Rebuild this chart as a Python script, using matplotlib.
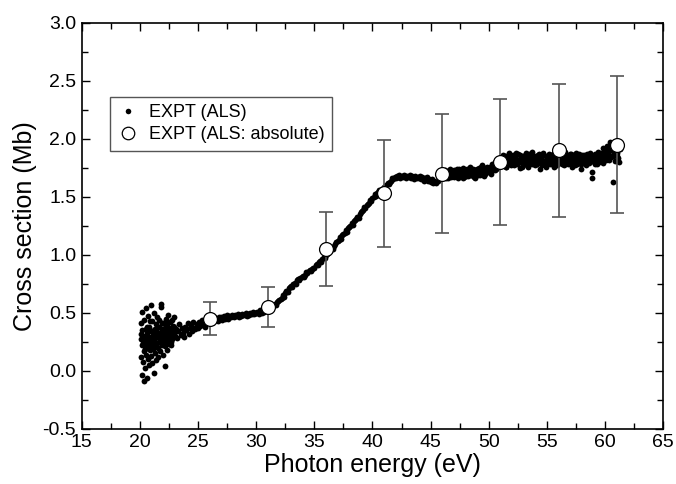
import numpy as np
import matplotlib
matplotlib.use("Agg")
import matplotlib.pyplot as plt
from matplotlib.ticker import MultipleLocator

plt.rcParams["font.family"] = ["Liberation Sans", "DejaVu Sans"]
plt.rcParams["axes.unicode_minus"] = False

# low energy part of the ALS scan (noisy, near threshold)
low_energy = [20.05, 20.08, 20.12, 20.15, 20.18, 20.22, 20.25, 20.28, 20.32, 20.35,
              20.38, 20.42, 20.45, 20.48, 20.52, 20.55, 20.58, 20.62, 20.65, 20.68,
              20.72, 20.75, 20.78, 20.82, 20.85, 20.88, 20.92, 20.95, 20.98, 21.02,
              21.05, 21.08, 21.12, 21.15, 21.18, 21.22, 21.25, 21.28, 21.32, 21.35,
              21.38, 21.42, 21.45, 21.48, 21.52, 21.55, 21.58, 21.62, 21.65, 21.68,
              21.72, 21.75, 21.78, 21.82, 21.85, 21.88, 21.92, 21.95, 21.98, 22.02,
              22.05, 22.08, 22.12, 22.15, 22.18, 22.22, 22.25, 22.28, 22.32, 22.35,
              22.38, 22.42, 22.45, 22.48, 22.52, 22.55, 22.58, 22.62, 22.65, 22.68,
              22.72, 22.75, 22.78, 22.82, 22.85, 22.88, 22.92, 22.95,
              20.10, 20.20, 20.30, 20.40, 20.50, 20.60, 20.70, 20.80, 20.90, 21.00,
              21.10, 21.20, 21.30, 21.40, 21.50, 21.60, 21.70, 21.80, 21.90, 22.00,
              22.10, 22.20, 22.30, 22.40, 22.50, 22.60, 22.70, 22.80, 22.90]
low_cs = [0.32, 0.12, 0.41, -0.04, 0.22, 0.51, 0.08, 0.30, 0.17, -0.09,
          0.44, 0.26, 0.02, 0.36, 0.14, 0.54, 0.21, -0.06, 0.33, 0.10,
          0.47, 0.25, 0.05, 0.38, 0.18, 0.29, 0.57, 0.13, 0.34, 0.22,
          0.43, 0.07, 0.31, 0.19, 0.50, 0.27, -0.02, 0.36, 0.15, 0.40,
          0.24, 0.09, 0.33, 0.46, 0.20, 0.29, 0.12, 0.38, 0.25, 0.44,
          0.17, 0.32, 0.27, 0.55, 0.58, 0.22, 0.36, 0.30, 0.14, 0.41,
          0.26, 0.33, 0.04, 0.37, 0.21, 0.45, 0.29, 0.34, 0.18, 0.39,
          0.27, 0.31, 0.48, 0.23, 0.35, 0.28, 0.42, 0.32, 0.25, 0.37,
          0.30, 0.44, 0.27, 0.34, 0.39, 0.29, 0.46, 0.33,
          0.27, 0.35, 0.24, 0.19, 0.29, 0.38, 0.20, 0.26, 0.43, 0.28,
          0.24, 0.35, 0.30, 0.21, 0.37, 0.28, 0.33, 0.24, 0.41, 0.31,
          0.27, 0.35, 0.40, 0.24, 0.30, 0.36, 0.22, 0.31, 0.38]

# main ALS scan, 23.0 - 61.2 eV in 0.1 eV steps (rows of 1 eV)
scan_energy = [
    23.0, 23.1, 23.2, 23.3, 23.4, 23.5, 23.6, 23.7, 23.8, 23.9,
    24.0, 24.1, 24.2, 24.3, 24.4, 24.5, 24.6, 24.7, 24.8, 24.9,
    25.0, 25.1, 25.2, 25.3, 25.4, 25.5, 25.6, 25.7, 25.8, 25.9,
    26.0, 26.1, 26.2, 26.3, 26.4, 26.5, 26.6, 26.7, 26.8, 26.9,
    27.0, 27.1, 27.2, 27.3, 27.4, 27.5, 27.6, 27.7, 27.8, 27.9,
    28.0, 28.1, 28.2, 28.3, 28.4, 28.5, 28.6, 28.7, 28.8, 28.9,
    29.0, 29.1, 29.2, 29.3, 29.4, 29.5, 29.6, 29.7, 29.8, 29.9,
    30.0, 30.1, 30.2, 30.3, 30.4, 30.5, 30.6, 30.7, 30.8, 30.9,
    31.0, 31.1, 31.2, 31.3, 31.4, 31.5, 31.6, 31.7, 31.8, 31.9,
    32.0, 32.1, 32.2, 32.3, 32.4, 32.5, 32.6, 32.7, 32.8, 32.9,
    33.0, 33.1, 33.2, 33.3, 33.4, 33.5, 33.6, 33.7, 33.8, 33.9,
    34.0, 34.1, 34.2, 34.3, 34.4, 34.5, 34.6, 34.7, 34.8, 34.9,
    35.0, 35.1, 35.2, 35.3, 35.4, 35.5, 35.6, 35.7, 35.8, 35.9,
    36.0, 36.1, 36.2, 36.3, 36.4, 36.5, 36.6, 36.7, 36.8, 36.9,
    37.0, 37.1, 37.2, 37.3, 37.4, 37.5, 37.6, 37.7, 37.8, 37.9,
    38.0, 38.1, 38.2, 38.3, 38.4, 38.5, 38.6, 38.7, 38.8, 38.9,
    39.0, 39.1, 39.2, 39.3, 39.4, 39.5, 39.6, 39.7, 39.8, 39.9,
    40.0, 40.1, 40.2, 40.3, 40.4, 40.5, 40.6, 40.7, 40.8, 40.9,
    41.0, 41.1, 41.2, 41.3, 41.4, 41.5, 41.6, 41.7, 41.8, 41.9,
    42.0, 42.1, 42.2, 42.3, 42.4, 42.5, 42.6, 42.7, 42.8, 42.9,
    43.0, 43.1, 43.2, 43.3, 43.4, 43.5, 43.6, 43.7, 43.8, 43.9,
    44.0, 44.1, 44.2, 44.3, 44.4, 44.5, 44.6, 44.7, 44.8, 44.9,
    45.0, 45.1, 45.2, 45.3, 45.4, 45.5, 45.6, 45.7, 45.8, 45.9,
    46.0, 46.1, 46.2, 46.3, 46.4, 46.5, 46.6, 46.7, 46.8, 46.9,
    47.0, 47.1, 47.2, 47.3, 47.4, 47.5, 47.6, 47.7, 47.8, 47.9,
    48.0, 48.1, 48.2, 48.3, 48.4, 48.5, 48.6, 48.7, 48.8, 48.9,
    49.0, 49.1, 49.2, 49.3, 49.4, 49.5, 49.6, 49.7, 49.8, 49.9,
    50.0, 50.1, 50.2, 50.3, 50.4, 50.5, 50.6, 50.7, 50.8, 50.9,
    51.0, 51.1, 51.2, 51.3, 51.4, 51.5, 51.6, 51.7, 51.8, 51.9,
    52.0, 52.1, 52.2, 52.3, 52.4, 52.5, 52.6, 52.7, 52.8, 52.9,
    53.0, 53.1, 53.2, 53.3, 53.4, 53.5, 53.6, 53.7, 53.8, 53.9,
    54.0, 54.1, 54.2, 54.3, 54.4, 54.5, 54.6, 54.7, 54.8, 54.9,
    55.0, 55.1, 55.2, 55.3, 55.4, 55.5, 55.6, 55.7, 55.8, 55.9,
    56.0, 56.1, 56.2, 56.3, 56.4, 56.5, 56.6, 56.7, 56.8, 56.9,
    57.0, 57.1, 57.2, 57.3, 57.4, 57.5, 57.6, 57.7, 57.8, 57.9,
    58.0, 58.1, 58.2, 58.3, 58.4, 58.5, 58.6, 58.7, 58.8, 58.9,
    59.0, 59.1, 59.2, 59.3, 59.4, 59.5, 59.6, 59.7, 59.8, 59.9,
    60.0, 60.1, 60.2, 60.3, 60.4, 60.5, 60.6, 60.7, 60.8, 60.9,
    61.0, 61.1, 61.2]
scan_cs = [
    0.30, 0.36, 0.28, 0.34, 0.40, 0.31, 0.37, 0.33, 0.29, 0.38,
    0.35, 0.41, 0.32, 0.37, 0.39, 0.34, 0.42, 0.36, 0.38, 0.40,
    0.37, 0.42, 0.39, 0.44, 0.40, 0.43, 0.38, 0.45, 0.41, 0.43,
    0.44, 0.42, 0.45, 0.43, 0.46, 0.44, 0.45, 0.43, 0.46, 0.45,
    0.46, 0.44, 0.47, 0.45, 0.46, 0.48, 0.45, 0.47, 0.46, 0.48,
    0.47, 0.46, 0.48, 0.47, 0.49, 0.46, 0.48, 0.47, 0.49, 0.48,
    0.48, 0.50, 0.47, 0.49, 0.48, 0.50, 0.49, 0.51, 0.49, 0.50,
    0.50, 0.51, 0.49, 0.52, 0.51, 0.50, 0.52, 0.51, 0.53, 0.52,
    0.53, 0.55, 0.54, 0.56, 0.55, 0.57, 0.58, 0.57, 0.59, 0.60,
    0.61, 0.62, 0.63, 0.65, 0.64, 0.67, 0.69, 0.68, 0.71, 0.72,
    0.73, 0.72, 0.75, 0.76, 0.75, 0.78, 0.79, 0.78, 0.80, 0.81,
    0.82, 0.81, 0.83, 0.85, 0.84, 0.86, 0.87, 0.86, 0.88, 0.89,
    0.89, 0.91, 0.92, 0.91, 0.94, 0.95, 0.94, 0.96, 0.98, 0.97,
    1.00, 1.01, 1.03, 1.02, 1.05, 1.06, 1.05, 1.08, 1.09, 1.11,
    1.12, 1.13, 1.15, 1.14, 1.17, 1.18, 1.19, 1.21, 1.20, 1.23,
    1.24, 1.25, 1.27, 1.26, 1.29, 1.30, 1.31, 1.33, 1.32, 1.35,
    1.37, 1.38, 1.39, 1.41, 1.40, 1.43, 1.44, 1.45, 1.47, 1.46,
    1.49, 1.50, 1.52, 1.51, 1.53, 1.54, 1.56, 1.55, 1.57, 1.56,
    1.58, 1.57, 1.60, 1.62, 1.61, 1.63, 1.64, 1.66, 1.65, 1.67,
    1.66, 1.68, 1.67, 1.69, 1.66, 1.68, 1.67, 1.69, 1.68, 1.66,
    1.68, 1.67, 1.69, 1.66, 1.68, 1.67, 1.65, 1.68, 1.66, 1.67,
    1.66, 1.68, 1.65, 1.67, 1.64, 1.66, 1.65, 1.67, 1.64, 1.65,
    1.63, 1.65, 1.62, 1.64, 1.63, 1.62, 1.64, 1.66, 1.65, 1.68,
    1.69, 1.67, 1.72, 1.68, 1.71, 1.66, 1.70, 1.73, 1.68, 1.71,
    1.67, 1.72, 1.69, 1.74, 1.70, 1.68, 1.73, 1.71, 1.66, 1.72,
    1.70, 1.74, 1.68, 1.71, 1.75, 1.69, 1.72, 1.67, 1.73, 1.70,
    1.74, 1.69, 1.72, 1.76, 1.70, 1.73, 1.68, 1.75, 1.71, 1.74,
    1.72, 1.76, 1.70, 1.74, 1.77, 1.73, 1.78, 1.75, 1.79, 1.76,
    1.80, 1.77, 1.83, 1.79, 1.85, 1.76, 1.82, 1.88, 1.78, 1.84,
    1.81, 1.86, 1.77, 1.83, 1.79, 1.87, 1.82, 1.75, 1.85, 1.80,
    1.84, 1.78, 1.88, 1.82, 1.76, 1.86, 1.81, 1.89, 1.79, 1.83,
    1.77, 1.85, 1.80, 1.87, 1.74, 1.83, 1.79, 1.86, 1.81, 1.76,
    1.84, 1.79, 1.87, 1.82, 1.78, 1.85, 1.80, 1.88, 1.83, 1.77,
    1.86, 1.81, 1.84, 1.78, 1.87, 1.82, 1.89, 1.79, 1.85, 1.83,
    1.80, 1.87, 1.76, 1.84, 1.81, 1.88, 1.78, 1.85, 1.82, 1.74,
    1.83, 1.79, 1.86, 1.81, 1.77, 1.85, 1.80, 1.88, 1.82, 1.66,
    1.84, 1.78, 1.86, 1.82, 1.89, 1.80, 1.87, 1.83, 1.79, 1.85,
    1.90, 1.82, 1.94, 1.86, 1.97, 1.84, 1.91, 1.63, 1.88, 1.95,
    1.85, 1.92, 1.80]

# second pass over the upper range
scan2_energy = [
    46.05, 46.15, 46.25, 46.35, 46.45, 46.55, 46.65, 46.75, 46.85, 46.95,
    47.05, 47.15, 47.25, 47.35, 47.45, 47.55, 47.65, 47.75, 47.85, 47.95,
    48.05, 48.15, 48.25, 48.35, 48.45, 48.55, 48.65, 48.75, 48.85, 48.95,
    49.05, 49.15, 49.25, 49.35, 49.45, 49.55, 49.65, 49.75, 49.85, 49.95,
    50.05, 50.15, 50.25, 50.35, 50.45, 50.55, 50.65, 50.75, 50.85, 50.95,
    51.05, 51.15, 51.25, 51.35, 51.45, 51.55, 51.65, 51.75, 51.85, 51.95,
    52.05, 52.15, 52.25, 52.35, 52.45, 52.55, 52.65, 52.75, 52.85, 52.95,
    53.05, 53.15, 53.25, 53.35, 53.45, 53.55, 53.65, 53.75, 53.85, 53.95,
    54.05, 54.15, 54.25, 54.35, 54.45, 54.55, 54.65, 54.75, 54.85, 54.95,
    55.05, 55.15, 55.25, 55.35, 55.45, 55.55, 55.65, 55.75, 55.85, 55.95,
    56.05, 56.15, 56.25, 56.35, 56.45, 56.55, 56.65, 56.75, 56.85, 56.95,
    57.05, 57.15, 57.25, 57.35, 57.45, 57.55, 57.65, 57.75, 57.85, 57.95,
    58.05, 58.15, 58.25, 58.35, 58.45, 58.55, 58.65, 58.75, 58.85, 58.95,
    59.05, 59.15, 59.25, 59.35, 59.45, 59.55, 59.65, 59.75, 59.85, 59.95,
    60.05, 60.15, 60.25, 60.35, 60.45, 60.55, 60.65, 60.75, 60.85, 60.95,
    61.05, 61.15, 61.25]
scan2_cs = [
    1.70, 1.68, 1.73, 1.66, 1.71, 1.69, 1.74, 1.67, 1.72, 1.70,
    1.73, 1.68, 1.71, 1.66, 1.74, 1.70, 1.69, 1.75, 1.67, 1.72,
    1.68, 1.73, 1.71, 1.76, 1.69, 1.72, 1.74, 1.70, 1.66, 1.73,
    1.71, 1.75, 1.69, 1.73, 1.77, 1.72, 1.70, 1.74, 1.76, 1.71,
    1.75, 1.71, 1.78, 1.73, 1.76, 1.80, 1.74, 1.77, 1.81, 1.78,
    1.82, 1.78, 1.86, 1.80, 1.76, 1.84, 1.79, 1.87, 1.81, 1.77,
    1.85, 1.79, 1.83, 1.88, 1.78, 1.82, 1.86, 1.80, 1.76, 1.84,
    1.80, 1.86, 1.77, 1.83, 1.87, 1.79, 1.84, 1.78, 1.85, 1.81,
    1.82, 1.78, 1.86, 1.80, 1.84, 1.77, 1.88, 1.81, 1.79, 1.85,
    1.80, 1.86, 1.78, 1.84, 1.81, 1.87, 1.76, 1.83, 1.79, 1.86,
    1.82, 1.88, 1.80, 1.85, 1.77, 1.83, 1.86, 1.81, 1.78, 1.87,
    1.84, 1.79, 1.86, 1.82, 1.77, 1.85, 1.80, 1.87, 1.83, 1.78,
    1.86, 1.81, 1.84, 1.78, 1.87, 1.82, 1.79, 1.85, 1.71, 1.83,
    1.80, 1.87, 1.83, 1.78, 1.85, 1.81, 1.88, 1.84, 1.92, 1.86,
    1.84, 1.93, 1.87, 1.82, 1.90, 1.96, 1.85, 1.92, 1.81, 1.89,
    1.88, 1.83, 1.91]

# absolute measurements with error bars
abs_energy = [26, 31, 36, 41, 46, 51, 56, 61]
abs_cs = [0.45, 0.55, 1.05, 1.53, 1.70, 1.80, 1.90, 1.95]
abs_err = [0.14, 0.17, 0.32, 0.46, 0.51, 0.54, 0.57, 0.59]

fig = plt.figure(figsize=(6.76, 4.84), dpi=100)
ax = fig.add_axes([0.121, 0.114, 0.860, 0.839])

all_e = low_energy + scan_energy + scan2_energy
all_cs = low_cs + scan_cs + scan2_cs
ax.plot(all_e, all_cs, "o", color="black", ms=4.2, mew=0,
        label="EXPT (ALS)", zorder=2)
ax.errorbar(abs_energy, abs_cs, yerr=abs_err, fmt="none", ecolor="#555555",
            elinewidth=1.2, capsize=5, capthick=1.2, zorder=3)
ax.plot(abs_energy, abs_cs, "o", mfc="white", mec="black", mew=0.9, ms=10,
        label="EXPT (ALS: absolute)", zorder=4)

ax.set_xlim(15, 65)
ax.set_ylim(-0.5, 3.0)
ax.xaxis.set_major_locator(MultipleLocator(5))
ax.xaxis.set_minor_locator(MultipleLocator(2.5))
ax.yaxis.set_major_locator(MultipleLocator(0.5))
ax.yaxis.set_minor_locator(MultipleLocator(0.25))
ax.tick_params(which="both", direction="in", top=True, right=True,
               labelsize=14, width=1)
ax.tick_params(which="major", length=6, pad=4)
ax.tick_params(which="minor", length=4)
for s in ax.spines.values():
    s.set_linewidth(1.2)

ax.set_xlabel("Photon energy (eV)", fontsize=18, labelpad=1)
ax.set_ylabel("Cross section (Mb)", fontsize=18, labelpad=4)

leg = ax.legend(loc="upper left", bbox_to_anchor=(0.048, 0.818),
                borderaxespad=0, fontsize=13, fancybox=False,
                edgecolor="#555555", framealpha=1, handletextpad=0.6,
                markerscale=1.0, handlelength=1.2, borderpad=0.4,
                labelspacing=0.3)
leg.get_frame().set_linewidth(1.0)
leg.legend_handles[0].set_markersize(4)
leg.legend_handles[1].set_markersize(9)

fig.savefig("out.png", dpi=100)
